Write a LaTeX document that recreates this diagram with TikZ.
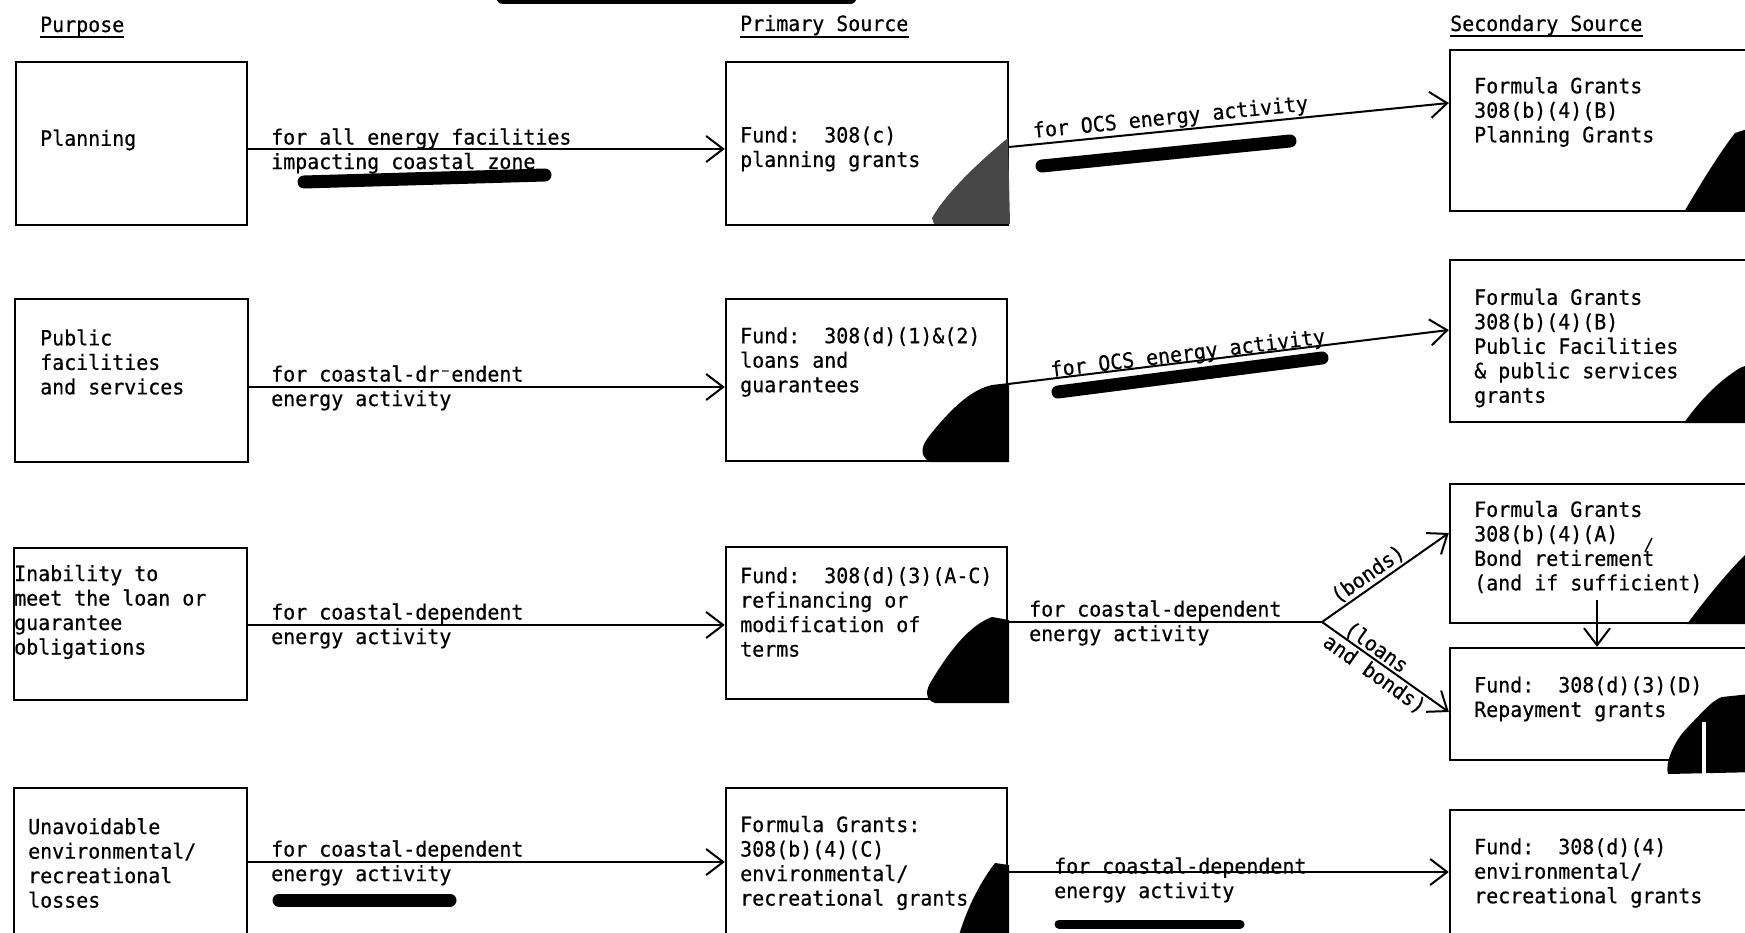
\documentclass[tikz,border=0pt]{standalone}
\usepackage{fontspec}
\setmonofont[FakeStretch=0.95,FakeBold=0.5]{DejaVu Sans Mono}
\usetikzlibrary{arrows.meta,calc}
\begin{document}
\begin{tikzpicture}[x=1pt,y=-1pt,
  font=\ttfamily\fontsize{21}{24.5}\selectfont,
  box/.style={draw, line width=2.4pt, inner sep=0pt},
  txt/.style={anchor=west, align=left, inner sep=0pt},
  hdr/.style={anchor=base west, inner sep=0pt},
  uline/.style={line width=2pt},
  conn/.style={line width=2pt},
  arr/.style={line width=2pt, -{Straight Barb[length=17pt,width=26pt,line width=2pt]}},
  lab/.style={inner sep=0pt},
  redact/.style={line width=13pt, line cap=round, draw=black},
  blob/.style={fill=black, draw=none},
]
\useasboundingbox (0,0) rectangle (1745,933);
\fill[white] (0,0) rectangle (1745,933);

% headers
\node[hdr] (hP) at (40,32) {Purpose};
\node[hdr] (hS) at (740,31) {Primary Source};
\node[hdr] (hT) at (1450,31) {Secondary Source};
\draw[uline] (hP.base west |- 0,37) -- (hP.base east |- 0,37);
\draw[uline] (hS.base west |- 0,37) -- (hS.base east |- 0,37);
\draw[uline] (hT.base west |- 0,36) -- (hT.base east |- 0,36);
\draw[redact] (503,-2) -- (850,-2);

% purpose boxes
\node[box, minimum width=231pt, minimum height=163pt] (P1) at (131.5,143.5) {};
\node[box, minimum width=233pt, minimum height=163pt] (P2) at (131.5,380.5) {};
\node[box, minimum width=233pt, minimum height=152pt] (P3) at (130.5,624) {};
\node[box, minimum width=233pt, minimum height=162pt] (P4) at (130.5,869) {};
% primary boxes
\node[box, minimum width=282pt, minimum height=163pt] (S1) at (867,143.5) {};
\node[box, minimum width=281pt, minimum height=162pt] (S2) at (866.5,380) {};
\node[box, minimum width=281pt, minimum height=152pt] (S3) at (866.5,623) {};
\node[box, minimum width=281pt, minimum height=162pt] (S4) at (866.5,869) {};
% secondary boxes
\node[box, minimum width=310pt, minimum height=161pt] (T1) at (1605,130.5) {};
\node[box, minimum width=310pt, minimum height=162pt] (T2) at (1605,341) {};
\node[box, minimum width=310pt, minimum height=139pt] (T3a) at (1605,553.5) {};
\node[box, minimum width=310pt, minimum height=112pt] (T3b) at (1605,704) {};
\node[box, minimum width=310pt, minimum height=140pt] (T4) at (1605,880) {};

% box texts
\node[txt] (P1t) at (40,140) {Planning};
\node[txt] (P2t) at (40,362) {Public\\facilities\\and services};
\node[txt] (P3t) at (14,612) {Inability to\\meet the loan or\\guarantee\\obligations};
\node[txt] (P4t) at (28,863) {Unavoidable\\environmental/\\recreational\\losses};
\node[txt] (S1t) at (740,149) {Fund:~~308(c)\\planning grants};
\node[txt] (S2t) at (740,362) {Fund:~~308(d)(1)\&(2)\\loans and\\guarantees};
\node[txt] (S3t) at (740,612) {Fund:~~308(d)(3)(A-C)\\refinancing or\\modification of\\terms};
\node[txt] (S4t) at (740,863) {Formula Grants:\\308(b)(4)(C)\\environmental/\\recreational grants};
\node[txt] (T1t) at (1474,112) {Formula Grants\\308(b)(4)(B)\\Planning Grants};
\node[txt] (T2t) at (1474,348) {Formula Grants\\308(b)(4)(B)\\Public Facilities\\\& public services\\grants};
\node[txt] (T3at) at (1474,547) {Formula Grants\\308(b)(4)(A)\\Bond retirement\\(and if sufficient)};
\node[txt] (T3bt) at (1474,699) {Fund:~~308(d)(3)(D)\\Repayment grants};
\node[txt] (T4t) at (1474,873) {Fund:~~308(d)(4)\\environmental/\\recreational grants};

% corner smudges
\fill[black!72] (1008,138) .. controls (975,165) and (945,195) .. (932,218) -- (934,224) -- (1010,224) -- cycle;
\fill[blob] (1735,133) -- (1760,125) -- (1760,212) -- (1684,212) .. controls (1700,185) and (1718,155) .. cycle;
\fill[blob] (992,385) -- (1009,383) -- (1009,462) -- (930,462) .. controls (918,455) and (922,445) .. (930,435) .. controls (950,410) and (970,390) .. cycle;
\fill[blob] (1740,368) -- (1760,360) -- (1760,423) -- (1684,423) .. controls (1700,400) and (1720,380) .. cycle;
\fill[blob] (992,617) -- (1009,620) -- (1009,703) -- (935,703) .. controls (925,700) and (925,690) .. (932,680) .. controls (950,650) and (970,625) .. cycle;
\fill[blob] (1745,555) -- (1760,550) -- (1760,624) -- (1687,624) .. controls (1705,600) and (1725,575) .. cycle;
\fill[blob] (1722,697) -- (1760,693) -- (1760,772) -- (1668,774) .. controls (1665,765) and (1672,745) .. (1685,730) .. controls (1700,715) and (1712,700) .. cycle;
\draw[white, line width=4pt] (1704,722) -- (1704,776);
\fill[blob] (995,863) -- (1009,865) -- (1009,935) -- (959,935) .. controls (968,905) and (982,880) .. cycle;

% connectors purpose -> primary
\draw[arr] (P1.east |- 0,149) -- (S1.west |- 0,149);
\draw[arr] (P2.east |- 0,387) -- (S2.west |- 0,387);
\draw[arr] (P3.east |- 0,625) -- (S3.west |- 0,625);
\draw[arr] (P4.east |- 0,862) -- (S4.west |- 0,862);
\node[txt] (A1l) at (271,151) {for all energy facilities\\impacting coastal zone};
\node[txt] (A2l) at (271,388) {for coastal-dr⁻endent\\energy activity};
\node[txt] (A3l) at (271,626) {for coastal-dependent\\energy activity};
\node[txt] (A4l) at (271,863) {for coastal-dependent\\energy activity};

% connectors primary -> secondary
\draw[arr] (S1.east |- 0,147) -- node[lab, sloped, above=1pt, pos=0.37] (B1l) {for OCS energy activity} (T1.west |- 0,103);
\draw[arr] (S2.east |- 0,384) -- node[lab, sloped, above=-4pt, pos=0.41] (B2l) {for OCS energy activity} (T2.west |- 0,330);
\coordinate (br) at (1322,622);
\draw[conn] (S3.east |- br) -- (br);
\draw[arr] (br) -- node[lab, sloped, above=2pt, pos=0.42] (bl1) {(bonds)} (T3a.west |- 0,533);
\draw[arr] (br) -- node[lab, sloped, above=0pt, pos=0.38] (bl2) {(loans} node[lab, sloped, below=2pt, pos=0.47] (bl3) {and bonds)} (T3b.west |- 0,712);
\node[txt] (B3l) at (1029,623) {for coastal-dependent\\energy activity};
\draw[arr] (S4.east |- 0,872) -- (T4.west |- 0,872);
\node[txt] (B4l) at (1054,880) {for coastal-dependent\\energy activity};
\coordinate (cs) at (1597,600);
\draw[arr] (cs) -- (T3b.north -| cs);
\draw[line width=1.5pt] (1645,552) -- (1652,538);

% redaction strokes
\draw[redact] (304,182) -- (545,175);
\draw[redact] (1042,166) -- (1290,141);
\draw[redact] (1058,392) -- (1322,358);
\draw[redact] (279,900) -- (450,900);
\draw[line width=9pt, line cap=round] (1059,924) -- (1240,924);
\end{tikzpicture}
\end{document}
